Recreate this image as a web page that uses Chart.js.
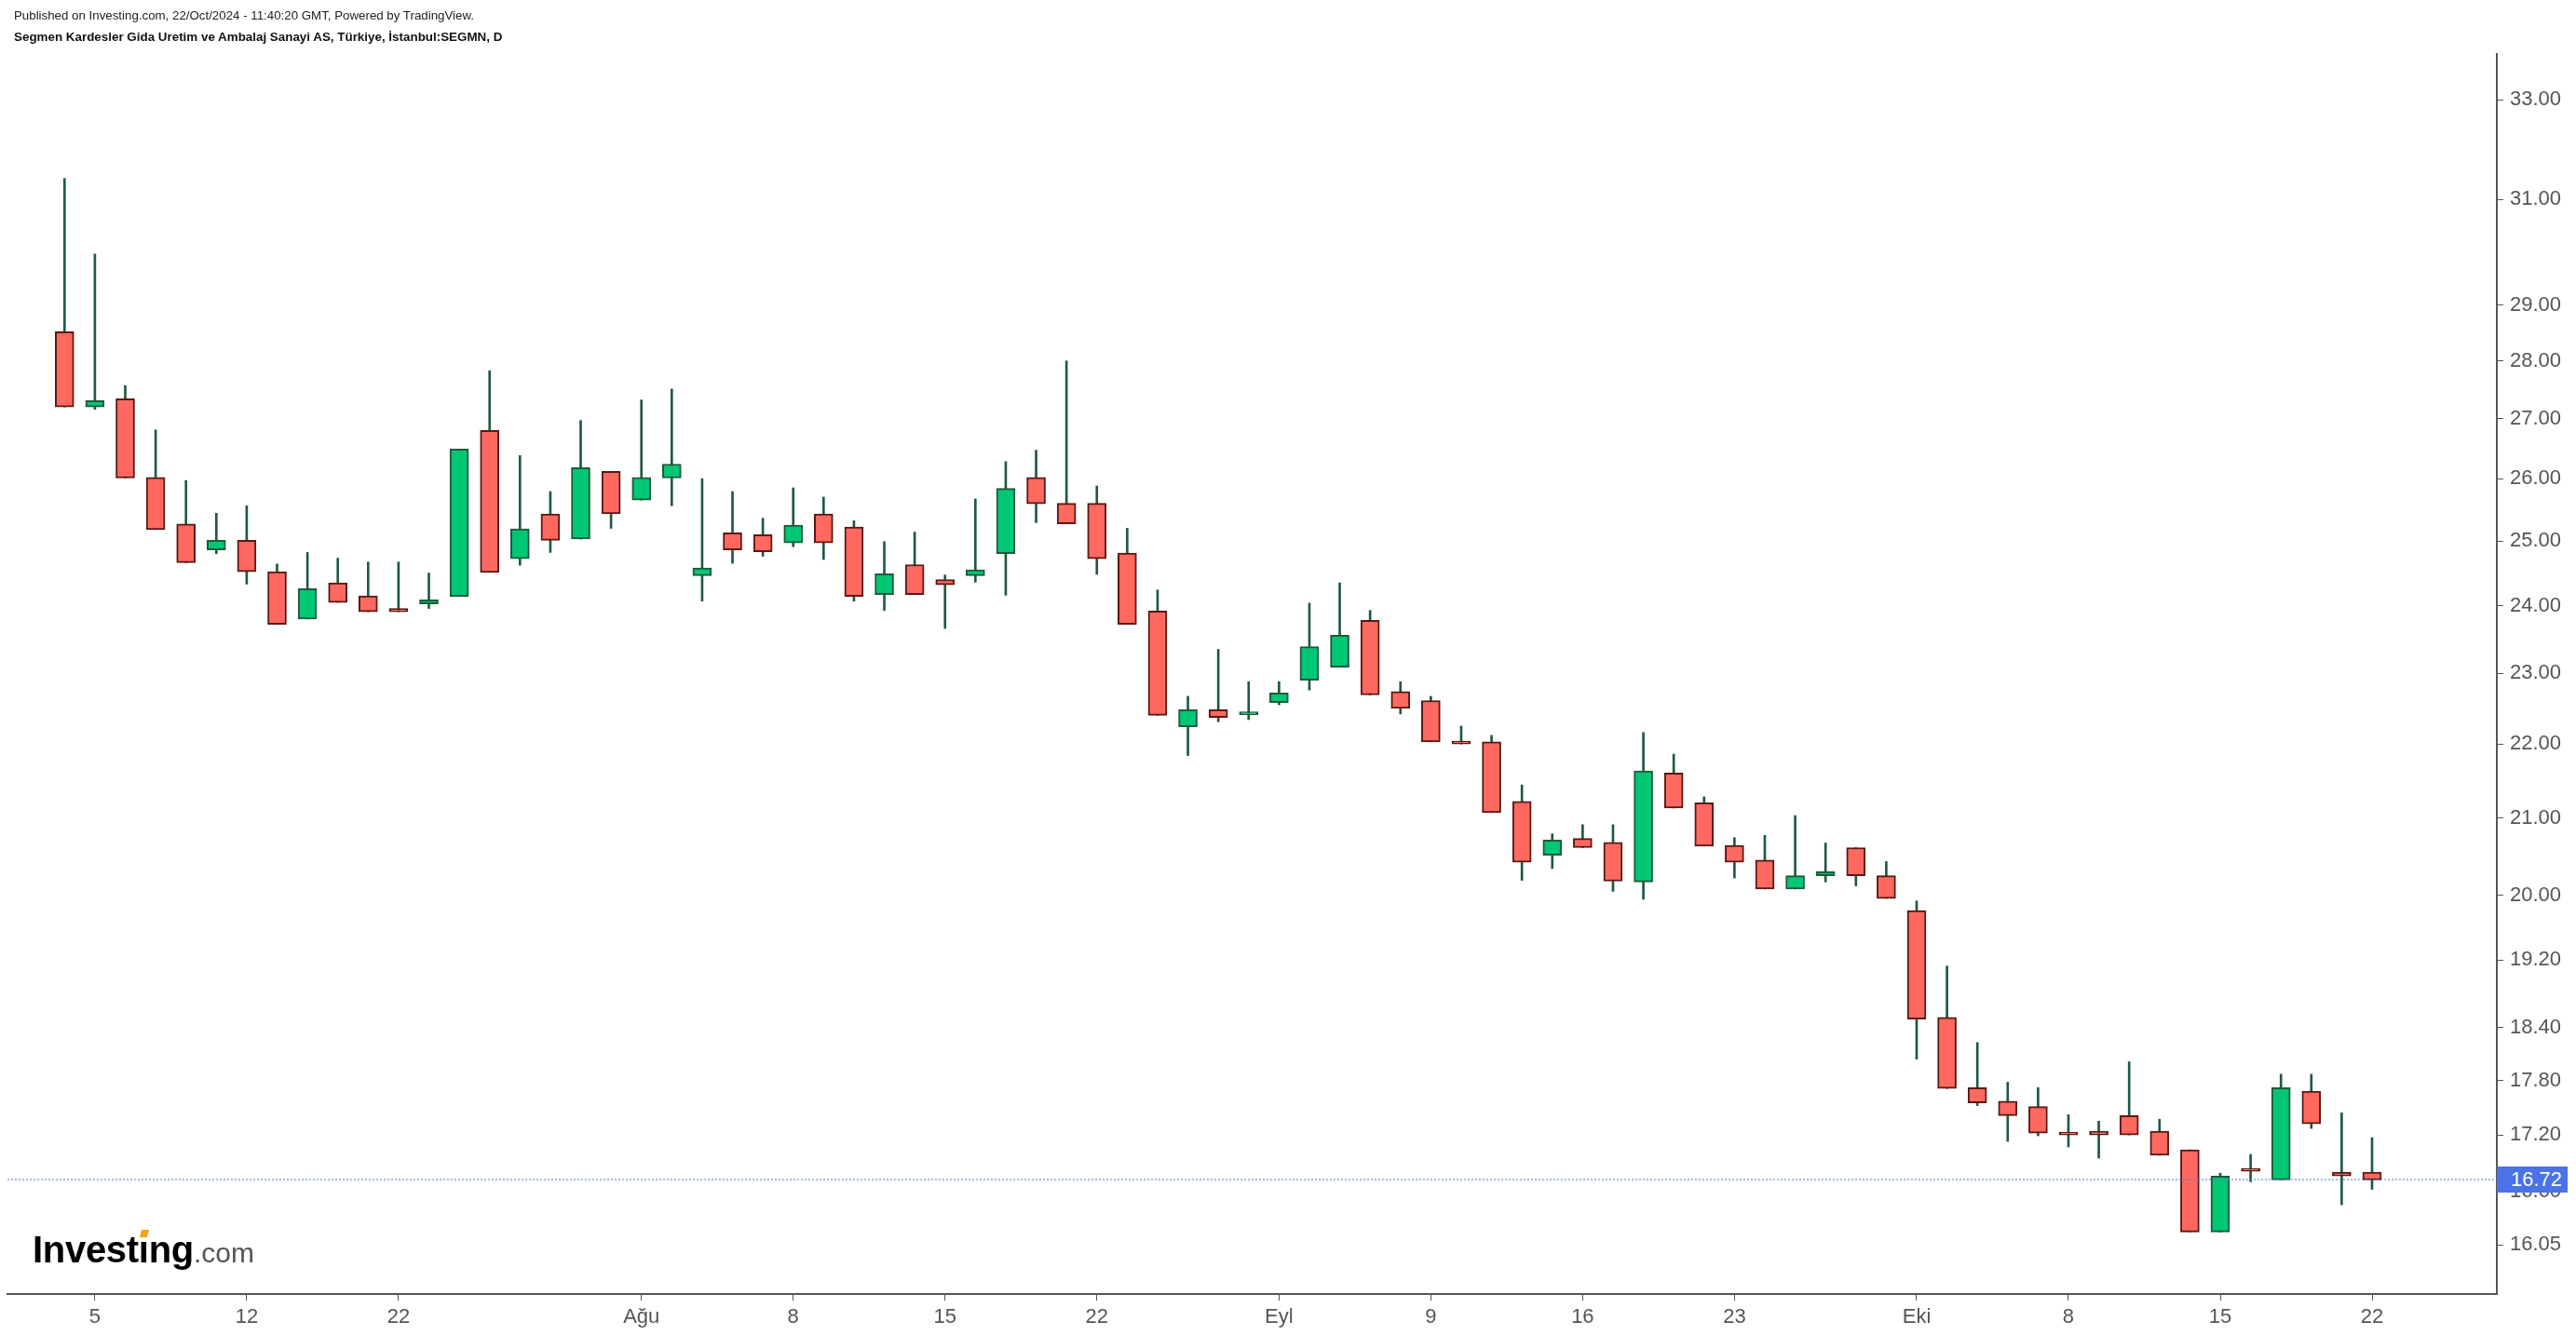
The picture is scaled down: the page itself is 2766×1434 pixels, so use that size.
<!DOCTYPE html>
<html>
<head>
<meta charset="utf-8">
<script src="https://cdn.jsdelivr.net/npm/chart.js@4.4.1/dist/chart.umd.min.js"></script>
<style>
  html, body { margin: 0; padding: 0; background: #fff; overflow: hidden; }
  .wrap { position: relative; width: 2766px; height: 1434px; }
  canvas { position: absolute; left: 0; top: 0; }
  .pub { position: absolute; left: 15px; top: 9px; font: 13.3px 'Liberation Sans', Arial, sans-serif; color: #222; white-space: nowrap; }
  .title { position: absolute; left: 15px; top: 32px; font: bold 13.4px 'Liberation Sans', Arial, sans-serif; color: #111; white-space: nowrap; }
  .logo { position: absolute; left: 35px; top: 1322px; line-height: 40px; height: 40px; white-space: nowrap; font-family: 'Liberation Sans', Arial, sans-serif; }
  .logo .inv { font-size: 40px; font-weight: bold; color: #000; letter-spacing: -0.3px; }
  .logo .i { position: relative; }
  .logo .dot { position: absolute; left: 2px; top: 1px; width: 8px; height: 8px; background: #f5a21b; transform: skewX(-15deg); }
  .logo .com { font-size: 30px; color: #555; }
</style>
</head>
<body>
<div class="wrap">
  <canvas id="chart" width="2766" height="1434"></canvas>
  <div class="pub">Published on Investing.com, 22/Oct/2024 - 11:40:20 GMT, Powered by TradingView.</div>
  <div class="title">Segmen Kardesler Gida Uretim ve Ambalaj Sanayi AS, Türkiye, İstanbul:SEGMN, D</div>
  <div class="logo"><span class="inv">Invest<span class="i">ı<span class="dot"></span></span>ng</span><span class="com">.com</span></div>
</div>
<script>
// SEGMN daily candles, 4 Jul - 22 Oct 2024 (trading days only)
const dates = [
  '2024-07-04','2024-07-05','2024-07-08','2024-07-09','2024-07-10','2024-07-11','2024-07-12',
  '2024-07-16','2024-07-17','2024-07-18','2024-07-19','2024-07-22','2024-07-23','2024-07-24',
  '2024-07-25','2024-07-26','2024-07-29','2024-07-30','2024-07-31','2024-08-01','2024-08-02',
  '2024-08-05','2024-08-06','2024-08-07','2024-08-08','2024-08-09','2024-08-12','2024-08-13',
  '2024-08-14','2024-08-15','2024-08-16','2024-08-19','2024-08-20','2024-08-21','2024-08-22',
  '2024-08-23','2024-08-26','2024-08-27','2024-08-28','2024-08-29','2024-09-02','2024-09-03',
  '2024-09-04','2024-09-05','2024-09-06','2024-09-09','2024-09-10','2024-09-11','2024-09-12',
  '2024-09-13','2024-09-16','2024-09-17','2024-09-18','2024-09-19','2024-09-20','2024-09-23',
  '2024-09-24','2024-09-25','2024-09-26','2024-09-27','2024-09-30','2024-10-01','2024-10-02',
  '2024-10-03','2024-10-04','2024-10-07','2024-10-08','2024-10-09','2024-10-10','2024-10-11',
  '2024-10-14','2024-10-15','2024-10-16','2024-10-17','2024-10-18','2024-10-21','2024-10-22'
];

const open = [
  28.52, 27.20, 27.34, 26.02, 25.27, 24.86, 25.01, 24.52, 23.80, 24.35, 24.15, 23.96, 24.03, 24.14,
  26.80, 24.72, 25.43, 25.03, 26.12, 25.65, 26.01, 24.46, 25.13, 25.10, 24.97, 25.43, 25.22, 24.17,
  24.63, 24.40, 24.46, 24.80, 26.02, 25.60, 25.60, 24.81, 23.92, 22.24, 22.48, 22.41, 22.58, 22.90,
  23.09, 23.78, 22.74, 22.61, 22.04, 22.03, 21.22, 20.51, 20.73, 20.68, 20.17, 21.60, 21.20, 20.64,
  20.45, 20.08, 20.25, 20.61, 20.25, 19.81, 18.52, 17.72, 17.57, 17.51, 17.23, 17.24, 17.41, 17.24,
  17.04, 16.18, 16.84, 16.72, 17.68, 16.80, 16.80
];
const high = [
  31.41, 29.95, 27.57, 26.81, 25.97, 25.44, 25.56, 24.64, 24.82, 24.73, 24.67, 24.67, 24.50, 26.49,
  27.83, 26.38, 25.79, 26.97, 26.12, 27.32, 27.51, 26.00, 25.79, 25.36, 25.85, 25.70, 25.32, 24.99,
  25.14, 24.47, 25.67, 26.28, 26.47, 28.00, 25.88, 25.20, 24.24, 22.67, 23.35, 22.88, 22.88, 24.04,
  24.35, 23.93, 22.88, 22.67, 22.25, 22.12, 21.44, 20.79, 20.91, 20.91, 22.16, 21.86, 21.28, 20.74,
  20.77, 21.03, 20.67, 20.61, 20.43, 19.93, 19.13, 18.23, 17.78, 17.72, 17.42, 17.35, 18.01, 17.37,
  17.04, 16.79, 16.99, 17.87, 17.87, 17.44, 17.17
];
const low = [
  27.20, 27.16, 26.01, 25.18, 24.66, 24.80, 24.33, 23.72, 23.80, 24.05, 23.91, 23.91, 23.96, 24.14,
  24.51, 24.62, 24.82, 25.03, 25.20, 25.65, 25.56, 24.07, 24.65, 24.76, 24.91, 24.71, 24.07, 23.93,
  24.17, 23.66, 24.36, 24.16, 25.29, 25.27, 24.48, 23.72, 22.40, 21.84, 22.31, 22.34, 22.55, 22.76,
  23.09, 22.69, 22.42, 22.03, 22.00, 21.07, 20.19, 20.34, 20.61, 20.05, 19.95, 21.13, 20.63, 20.22,
  20.08, 20.08, 20.17, 20.12, 19.96, 18.04, 17.71, 17.52, 17.13, 17.19, 17.07, 16.95, 17.20, 16.98,
  16.18, 16.18, 16.70, 16.72, 17.27, 16.46, 16.62
];
const close = [
  27.20, 27.31, 26.01, 25.18, 24.66, 25.01, 24.52, 23.72, 24.26, 24.05, 23.91, 23.91, 24.09, 26.49,
  24.51, 25.19, 25.01, 26.18, 25.43, 26.02, 26.24, 24.58, 24.86, 24.83, 25.25, 24.97, 24.14, 24.49,
  24.17, 24.32, 24.55, 25.84, 25.59, 25.27, 24.72, 23.72, 22.40, 22.48, 22.37, 22.45, 22.72, 23.39,
  23.56, 22.69, 22.50, 22.03, 22.00, 21.07, 20.42, 20.71, 20.61, 20.18, 21.63, 21.13, 20.63, 20.42,
  20.08, 20.25, 20.30, 20.25, 19.96, 18.50, 17.71, 17.55, 17.41, 17.22, 17.20, 17.20, 17.20, 16.98,
  16.18, 16.76, 16.81, 17.72, 17.32, 16.76, 16.72
];

const tickDates = ['2024-07-05','2024-07-12','2024-07-22','2024-08-01','2024-08-08','2024-08-15','2024-08-22',
  '2024-09-02','2024-09-09','2024-09-16','2024-09-23','2024-10-01','2024-10-08','2024-10-15','2024-10-22'];
const tickLabels = ['5','12','22','Ağu','8','15','22','Eyl','9','16','23','Eki','8','15','22'];
const yTicks = [16.05, 16.6, 17.2, 17.8, 18.4, 19.2, 20, 21, 22, 23, 24, 25, 26, 27, 28, 29, 31, 33];

const lastPrice = close[close.length - 1];
const tickIdx = tickDates.map(d => dates.indexOf(d));
const isUp = close.map((c, i) => c > open[i]);

const upFill = '#00c774', upLine = '#1e5a3c';
const downFill = '#ff695f', downLine = '#5a1914';
const wickColor = '#1f5a3c';
const axisColor = '#555555';
const labelFont = { family: "'Liberation Sans', Arial, sans-serif", size: 22 };

const lastPriceLine = {
  id: 'lastPriceLine',
  afterDraw(chart) {
    const { ctx, chartArea, scales } = chart;
    const y = Math.round(scales.y.getPixelForValue(lastPrice));
    ctx.save();
    ctx.strokeStyle = 'rgba(74,115,232,0.5)';
    ctx.lineWidth = 2;
    ctx.setLineDash([2, 2]);
    ctx.beginPath();
    ctx.moveTo(chartArea.left, y);
    ctx.lineTo(chartArea.right, y);
    ctx.stroke();
    ctx.setLineDash([]);
    ctx.fillStyle = '#4a73e8';
    ctx.fillRect(chartArea.right, y - 14, 76, 28);
    ctx.fillStyle = '#ffffff';
    ctx.font = "22px 'Liberation Sans', Arial, sans-serif";
    ctx.textBaseline = 'middle';
    ctx.fillText(lastPrice.toFixed(2), chartArea.right + 15, y + 1);
    ctx.restore();
  }
};

new Chart(document.getElementById('chart'), {
  type: 'bar',
  data: {
    datasets: [
      {
        label: 'body',
        data: dates.map((d, i) => ({ x: i, y: [open[i], close[i]] })),
        backgroundColor: isUp.map(u => u ? upFill : downFill),
        borderColor: isUp.map(u => u ? upLine : downLine),
        borderWidth: 2,
        borderSkipped: false,
        barThickness: 20,
        grouped: false
      },
      {
        label: 'wick',
        data: dates.map((d, i) => ({ x: i, y: [low[i], high[i]] })),
        backgroundColor: wickColor,
        borderWidth: 0,
        barThickness: 2,
        grouped: false
      }
    ]
  },
  options: {
    responsive: false,
    devicePixelRatio: 1,
    animation: false,
    layout: { padding: { top: 58, left: 8, right: 0, bottom: 0 } },
    plugins: { legend: { display: false }, tooltip: { enabled: false } },
    scales: {
      x: {
        type: 'linear',
        min: -1.88,
        max: 80.11,
        offset: false,
        afterBuildTicks: scale => { scale.ticks = tickIdx.map(v => ({ value: v })); },
        afterFit: scale => { scale.height = 44; },
        grid: { offset: false, drawOnChartArea: false, drawTicks: true, tickLength: 7, color: axisColor, lineWidth: 1 },
        border: { display: true, color: axisColor, width: 2 },
        ticks: {
          autoSkip: false,
          maxRotation: 0,
          padding: 5,
          color: axisColor,
          font: labelFont,
          callback: value => tickLabels[tickIdx.indexOf(value)] ?? ''
        }
      },
      y: {
        type: 'logarithmic',
        position: 'right',
        min: 15.56,
        max: 33.97,
        afterBuildTicks: scale => { scale.ticks = yTicks.map(v => ({ value: v })); },
        afterFit: scale => { scale.width = 85; },
        grid: { drawOnChartArea: false, drawTicks: true, tickLength: 7, color: axisColor, lineWidth: 1 },
        border: { display: true, color: axisColor, width: 2 },
        ticks: {
          padding: 7,
          color: axisColor,
          font: labelFont,
          callback: value => Number(value).toFixed(2)
        }
      }
    }
  },
  plugins: [lastPriceLine]
});
</script>
</body>
</html>
